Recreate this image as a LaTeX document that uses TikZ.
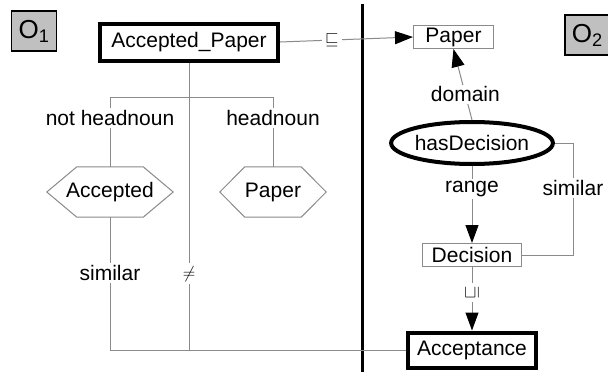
\documentclass[tikz,border=0pt]{standalone}
\usepackage{fontspec}
\setmainfont{Liberation Sans}
\usetikzlibrary{arrows.meta,shapes.geometric,calc}
\definecolor{lg}{HTML}{8A8A8A}
\definecolor{og}{HTML}{C0C0C0}
\begin{document}
\begin{tikzpicture}[x=1pt,y=-1pt, font=\fontsize{21}{25}\selectfont,
  thinbox/.style={draw=lg, line width=1pt, inner sep=0pt},
  thickbox/.style={draw=black, line width=4pt, inner sep=0pt},
  conn/.style={draw=lg, line width=1pt},
  arr/.style={conn, -{Triangle[length=18pt,width=13pt,color=black,fill=black]}},
  lbl/.style={fill=white, inner sep=2pt},
  sym/.style={fill=white, inner sep=3pt, font=\fontsize{19}{21}\selectfont},
  hexnode/.style={minimum height=50pt, inner sep=0pt},
  hexline/.style={draw=lg, line width=1pt},
  obox/.style={draw=black, line width=1.5pt, fill=og, minimum width=45pt, minimum height=40pt, inner sep=0pt, font=\fontsize{26}{30}\selectfont}]
\useasboundingbox (0,0) rectangle (608,372);
\clip (0,0) rectangle (608,372);
\fill[white] (0,0) rectangle (608,372);

% ontology labels
\node[obox] (o1) at (34,31) {O\textsubscript{1}};
\node[obox, anchor=west] (o2) at (564,35) {O\textsubscript{2}};

% divider
\coordinate (divtop) at (362,4);
\coordinate (divbot) at (362,372);
\draw[line width=3pt] (divtop) -- (divbot);

% left side nodes
\node[thickbox, minimum width=178pt, minimum height=37pt] (ap) at (189,42) {Accepted\_Paper};
\node[hexnode, minimum width=126pt] (hexA) at (110,192) {Accepted};
\node[hexnode, minimum width=106pt] (hexP) at (273,192) {Paper};
\draw[hexline] (hexA.west) -- ([xshift=30pt]hexA.north west) -- ([xshift=-30pt]hexA.north east)
  -- (hexA.east) -- ([xshift=-30pt]hexA.south east) -- ([xshift=30pt]hexA.south west) -- cycle;
\draw[hexline] (hexP.west) -- ([xshift=25pt]hexP.north west) -- ([xshift=-25pt]hexP.north east)
  -- (hexP.east) -- ([xshift=-25pt]hexP.south east) -- ([xshift=25pt]hexP.south west) -- cycle;

% right side nodes
\node[thinbox, minimum width=80pt, minimum height=23pt] (pap) at (453.5,37) {Paper};
\node[ellipse, draw=black, line width=4pt, inner sep=0pt, minimum width=161pt, minimum height=42pt] (hd) at (472,143) {hasDecision};
\node[thinbox, minimum width=99pt, minimum height=23pt] (dec) at (472,255) {Decision};
\node[thickbox, minimum width=128pt, minimum height=35pt] (acc) at (472,350) {Acceptance};

% connectors
\draw[arr] (ap.east) -- node[sym, pos=0.39] {$\sqsubseteq$} (pap.west);
\coordinate (br) at (189,97);
\draw[conn] (br) -| node[lbl, pos=0.65] {not headnoun} (hexA.north);
\draw[conn] (br) -| node[lbl, pos=0.65] {headnoun} (hexP.north);
\draw[conn] (ap.south) -- node[sym, pos=0.735] {$\neq$} (ap.south |- acc.west);
\draw[conn] (hexA.south) |- node[lbl, pos=0.21] {similar} (acc.west);

\draw[arr] (hd.north) -- node[lbl, pos=0.36] {domain} (pap.south);
\draw[arr] (hd.south) -- node[lbl, pos=0.3] {range} (dec.north);
\draw[conn] (hd.east) -| node[lbl, pos=0.7] {similar} ($(dec.east)+(51,0)$) -- (dec.east);
\draw[arr] (dec.south) -- node[sym, pos=0.4] {\rotatebox{90}{$\sqsubseteq$}} (acc.north);
\end{tikzpicture}
\end{document}
